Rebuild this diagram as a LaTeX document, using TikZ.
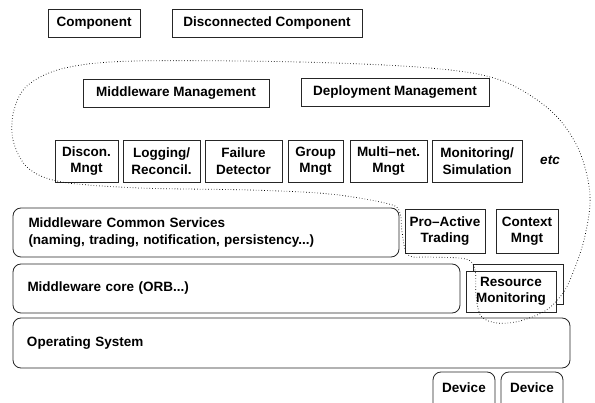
\documentclass[tikz,border=0pt]{standalone}
\usepackage{fontspec}
\setmainfont{Liberation Sans}
\begin{document}
\begin{tikzpicture}[x=1pt,y=-1pt,
  every node/.style={font=\bfseries\fontsize{13.5}{16.5}\selectfont},
  box/.style={draw=black!85, line width=0.8pt, fill=white, inner sep=0pt, align=center},
  layer/.style={box, rounded corners=8pt, align=left, text width=#1},
  hull/.style={draw=black, line width=0.8pt, dash pattern=on 0.6pt off 2.2pt}
]
\useasboundingbox (0,0) rectangle (595,403);

% legend
\node[box, minimum width=92pt, minimum height=28pt] (comp) at (94,23) {Component};
\node[box, minimum width=190pt, minimum height=28pt] (dcomp) at (267,23) {Disconnected Component};

% management services
\node[box, minimum width=186pt, minimum height=28pt] (mm) at (176,93) {Middleware Management};
\node[box, minimum width=188pt, minimum height=28pt] (dm) at (395,92) {Deployment Management};

% disconnection-aware services
\node[box, minimum width=63pt, minimum height=42pt] (discon) at (86.5,161) {Discon.\\Mngt};
\node[box, minimum width=77pt, minimum height=42pt] (logging) at (161.5,161) {Logging/\\Reconcil.};
\node[box, minimum width=77pt, minimum height=42pt] (failure) at (243.5,161) {Failure\\Detector};
\node[box, minimum width=55pt, minimum height=42pt] (group) at (315.5,161) {Group\\Mngt};
\node[box, minimum width=77pt, minimum height=42pt] (multinet) at (388.5,161) {Multi\textendash net.\\Mngt};
\node[box, minimum width=90pt, minimum height=42pt] (monsim) at (477,161) {Monitoring/\\Simulation};
\node[font=\bfseries\itshape\fontsize{13.5}{16.5}\selectfont] (etc) at (550,160) {etc};

% middleware layers
\node[layer=355pt, minimum width=386pt, minimum height=49pt] (mcs) at (206,232.5)
  {Middleware Common Services\\(naming, trading, notification, persistency...)};
\node[box, minimum width=80pt, minimum height=44pt] (pat) at (445,231) {Pro\textendash Active\\Trading};
\node[box, minimum width=62pt, minimum height=44pt] (ctx) at (527,231) {Context\\Mngt};
\node[layer=418pt, minimum width=447pt, minimum height=49pt] (core) at (236.5,288.5) {Middleware core (ORB...)};

% resource monitoring (stacked)
\node[box, minimum width=90pt, minimum height=40pt] (resback) at (518,284) {};
\node[box, minimum width=90pt, minimum height=41pt] (res) at (511,291.5) {Resource\\Monitoring};

\node[layer=529pt, minimum width=557pt, minimum height=50pt] (os) at (291.5,343) {Operating System};

% devices
\node[box, rounded corners=8pt, minimum width=62pt, minimum height=40pt] (dev1) at (464,392) {};
\node[box, rounded corners=8pt, minimum width=62pt, minimum height=40pt] (dev2) at (532,392) {};
\node at (464,388) {Device};
\node at (532,388) {Device};

% boundary of the disconnection-aware part
\draw[hull] plot[smooth cycle, tension=0.55] coordinates {
  (135,61) (300,62) (430,68) (500,80) (550,110) (578,148) (590,195) (584,240)
  (570,280) (560,297) (545,311) (520,321) (497,323) (481,316) (476,295) (475,270)
  (466,259) (430,257) (408,255) (402,232) (400,213) (389,204) (330,194) (250,190)
  (140,188) (62,182) (28,168) (13,140) (14,110) (28,85) (65,68)};
\end{tikzpicture}
\end{document}
